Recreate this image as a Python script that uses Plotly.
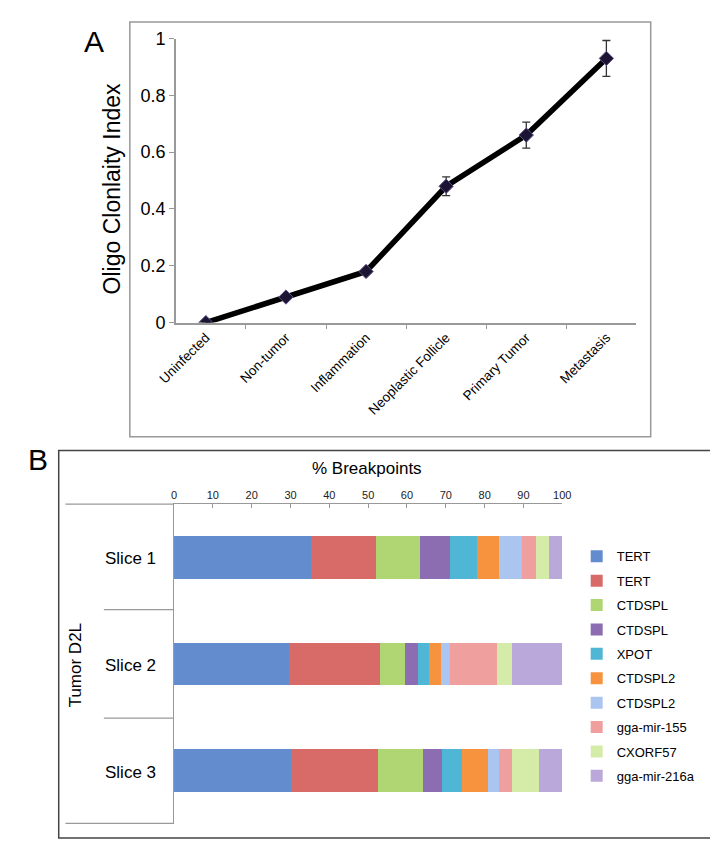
import plotly.graph_objects as go

W, H = 718, 845

# Panel A data
STAGES = ['Uninfected', 'Non-tumor', 'Inflammation', 'Neoplastic Follicle', 'Primary Tumor', 'Metastasis']
CLONALITY = [0.0, 0.09, 0.18, 0.48, 0.66, 0.93]
CLONALITY_ERR = [0.0, 0.0, 0.0, 0.033, 0.046, 0.063]

# Panel B data
SLICES = ['Slice 1', 'Slice 2', 'Slice 3']
GENES = ['TERT', 'TERT', 'CTDSPL', 'CTDSPL', 'XPOT', 'CTDSPL2', 'CTDSPL2', 'gga-mir-155', 'CXORF57', 'gga-mir-216a']
SLICE1 = [35.2, 16.7, 11.5, 7.6, 7.1, 5.7, 5.8, 3.6, 3.5, 3.3]
SLICE2 = [29.7, 23.4, 6.3, 3.5, 2.8, 3.1, 2.4, 11.9, 3.9, 13.0]
SLICE3 = [30.1, 22.5, 11.4, 5.0, 5.2, 6.7, 2.9, 3.3, 6.9, 6.0]
GENE_COLORS = ['#628cce', '#d86a67', '#b0d674', '#8c6db2', '#50b6d6',
               '#f7933f', '#abc5f1', '#efa09e', '#d5eba8', '#bba8da']

FONT = 'Liberation Sans, Arial, sans-serif'


def px_x(x):
    return x / W


def px_y(y):
    return 1 - y / H


fig = go.Figure()

# ---- Panel A: line with error bars
fig.add_trace(go.Scatter(
    x=STAGES, y=CLONALITY, mode='lines+markers',
    line=dict(color='black', width=5.5),
    marker=dict(symbol='diamond', size=11, color='#1c1433', line=dict(color='#5e4f86', width=1)),
    error_y=dict(type='data', array=CLONALITY_ERR, visible=True, color='#333333', thickness=1.3, width=4),
    showlegend=False, xaxis='x', yaxis='y',
))

# ---- Panel B: stacked horizontal bars
rows = [SLICE1, SLICE2, SLICE3]
for i, gene in enumerate(GENES):
    fig.add_trace(go.Bar(
        y=SLICES, x=[r[i] for r in rows], orientation='h', name=gene,
        marker=dict(color=GENE_COLORS[i], line=dict(width=0)),
        legendgroup=f'g{i}', xaxis='x2', yaxis='y2',
    ))

fig.update_layout(
    width=W, height=H, margin=dict(l=0, r=0, t=0, b=0),
    paper_bgcolor='white', plot_bgcolor='white',
    font=dict(family=FONT, color='black'),
    barmode='stack', bargap=0.6,
    xaxis=dict(
        domain=[px_x(155), px_x(634)], type='category', tickson='boundaries',
        ticks='outside', ticklen=5, tickcolor='#999', showline=True, linecolor='#999', linewidth=1.5,
        tickangle=-45, tickfont=dict(size=13.5), showgrid=False, zeroline=False, fixedrange=True,
    ),
    yaxis=dict(
        domain=[px_y(312), px_y(21)], range=[0, 1], dtick=0.2, tickformat='~g',
        ticks='outside', ticklen=5, tickcolor='#999', showline=True, linecolor='#999', linewidth=1.5,
        tickfont=dict(size=18), showgrid=False, zeroline=False,
    ),
    xaxis2=dict(
        domain=[px_x(153), px_x(557)], anchor='y2', side='top', range=[0, 100], dtick=10,
        ticks='inside', ticklen=4, tickcolor='#999', showline=True, linecolor='#999', linewidth=1.2,
        tickfont=dict(size=11, color='#222'), showgrid=False, zeroline=False,
    ),
    yaxis2=dict(
        domain=[px_y(825), px_y(498)], anchor='x2', categoryorder='array', categoryarray=SLICES,
        autorange='reversed', showticklabels=False, ticks='', showline=True, linecolor='#999', linewidth=1.2,
        showgrid=False, zeroline=False,
    ),
    legend=dict(
        x=px_x(572), y=px_y(536), xanchor='left', yanchor='top', traceorder='grouped',
        font=dict(size=13), tracegroupgap=4.5, itemwidth=30, bgcolor='rgba(0,0,0,0)',
    ),
)

shapes = [
    # panel boxes
    dict(type='rect', x0=px_x(107), x1=px_x(649), y0=px_y(429), y1=px_y(4), line=dict(color='#999', width=1.5)),
    dict(type='rect', x0=px_x(33), x1=px_x(713), y0=px_y(840), y1=px_y(443), line=dict(color='#444', width=1.5)),
    # category separators of panel B
    dict(type='line', x0=px_x(40), x1=px_x(153), y0=px_y(498), y1=px_y(498), line=dict(color='#999', width=1.2)),
    dict(type='line', x0=px_x(80), x1=px_x(153), y0=px_y(606), y1=px_y(606), line=dict(color='#999', width=1.2)),
    dict(type='line', x0=px_x(80), x1=px_x(153), y0=px_y(717), y1=px_y(717), line=dict(color='#999', width=1.2)),
    dict(type='line', x0=px_x(40), x1=px_x(153), y0=px_y(825), y1=px_y(825), line=dict(color='#999', width=1.2)),
]
for s in shapes:
    s.update(xref='paper', yref='paper')
fig.update_layout(shapes=shapes)

annotations = [
    dict(text='A', x=px_x(70), y=px_y(24), font=dict(size=30)),
    dict(text='B', x=px_x(11), y=px_y(452), font=dict(size=30)),
    dict(text='Oligo Clonlaity Index', x=px_x(88), y=px_y(175), textangle=-90, font=dict(size=23)),
    dict(text='% Breakpoints', x=px_x(354), y=px_y(461), font=dict(size=17)),
    dict(text='Tumor D2L', x=px_x(50), y=px_y(663), textangle=-90, font=dict(size=17)),
]
for label, yc in zip(SLICES, [554, 663, 773]):
    annotations.append(dict(text=label, x=px_x(108), y=px_y(yc), font=dict(size=17)))
for a in annotations:
    a.update(xref='paper', yref='paper', showarrow=False, xanchor='center', yanchor='middle')
fig.update_layout(annotations=annotations)

fig.write_html('out.html')
